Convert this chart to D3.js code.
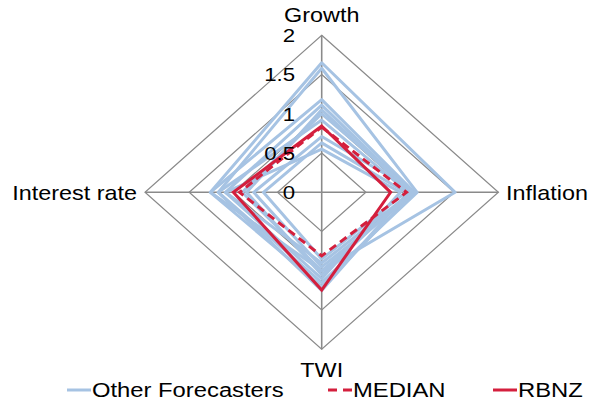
<!DOCTYPE html>
<html><head><meta charset="utf-8">
<script src="https://cdn.jsdelivr.net/npm/d3@7"></script>
<style>body{margin:0;background:#fff}svg{display:block}text{font-family:"Liberation Sans",Arial,sans-serif;fill:#000}</style>
</head><body><svg id="c" width="591" height="403"></svg>
<script>
const axes = ["Growth", "Inflation", "TWI", "Interest rate"];
const ticks = [0, 0.5, 1, 1.5, 2];
const tickLabels = ["0", "0.5", "1", "1.5", "2"];
// Other forecasters: [Growth, Inflation, TWI, Interest rate]
const others = [
  [1.65, 1.51, 1.00, 1.26],
  [1.58, 1.08, 1.15, 1.17],
  [1.18, 1.05, 1.20, 1.26],
  [1.11, 1.02, 0.90, 1.09],
  [1.05, 1.00, 1.05, 0.85],
  [0.92, 0.98, 1.25, 1.17],
  [0.71, 1.07, 0.95, 0.77],
  [0.63, 0.95, 0.85, 0.66],
  [0.55, 0.89, 1.10, 1.09],
  [1.00, 1.04, 1.00, 0.90]
];
const median = [0.83, 0.96, 0.81, 0.93];
const rbnz = [0.845, 0.78, 1.245, 1.00];
const legendNames = ["Other Forecasters", "MEDIAN", "RBNZ"];

const svg = d3.select("#c");
const cx = 321.7, cy = 192.3;
const rX = d3.scaleLinear().domain([0, 2]).range([0, 176.7]);
const rY = d3.scaleLinear().domain([0, 2]).range([0, 157]);
const dirs = [[0, -1], [1, 0], [0, 1], [-1, 0]];
const pt = (v, i) => [cx + dirs[i][0] * rX(v), cy + dirs[i][1] * rY(v)];
const line = d3.line().curve(d3.curveLinearClosed);

function label(x, y, txt, anchor, size, sx) {
  svg.append("text").attr("transform", `translate(${x},${y}) scale(${sx},1)`)
    .attr("dy", "0.36em").attr("text-anchor", anchor).attr("font-size", size).text(txt);
}

// grid rings
ticks.filter(t => t > 0).forEach(t => {
  svg.append("path").attr("d", line(axes.map((a, i) => pt(t, i))))
    .attr("fill", "none").attr("stroke", "#8a8a8a").attr("stroke-width", 1.2);
});
// spokes
axes.forEach((a, i) => {
  const p = pt(2, i);
  svg.append("line").attr("x1", cx).attr("y1", cy).attr("x2", p[0]).attr("y2", p[1])
    .attr("stroke", "#8a8a8a").attr("stroke-width", 1.6);
});
// series
const blue = "#a6c3e3", red = "#d41f3d";
others.forEach(s => {
  svg.append("path").attr("d", line(s.map(pt))).attr("fill", "none")
    .attr("stroke", blue).attr("stroke-width", 3).attr("stroke-linejoin", "round");
});
svg.append("path").attr("d", line(median.map(pt))).attr("fill", "none")
  .attr("stroke", red).attr("stroke-width", 3).attr("stroke-dasharray", "8,5");
svg.append("path").attr("d", line(rbnz.map(pt))).attr("fill", "none")
  .attr("stroke", red).attr("stroke-width", 3);

// tick labels (on top)
ticks.forEach((t, k) => label(295, pt(t, 0)[1], tickLabels[k], "end", 19, 1.17));

// axis labels
label(cx, 15, axes[0], "middle", 20, 1.17);
label(506, cy, axes[1], "start", 20, 1.17);
label(cx, 370, axes[2], "middle", 20, 1.17);
label(137, cy, axes[3], "end", 20, 1.17);

// legend
const leg = [
  {x: 67, color: blue, dash: null},
  {x: 328, color: red, dash: "9,6"},
  {x: 493, color: red, dash: null}
];
leg.forEach((l, k) => {
  svg.append("line").attr("x1", l.x).attr("x2", l.x + 24).attr("y1", 390).attr("y2", 390)
    .attr("stroke", l.color).attr("stroke-width", 3).attr("stroke-dasharray", l.dash);
  label(l.x + 25, 390, legendNames[k], "start", 20, 1.19);
});
</script></body></html>
